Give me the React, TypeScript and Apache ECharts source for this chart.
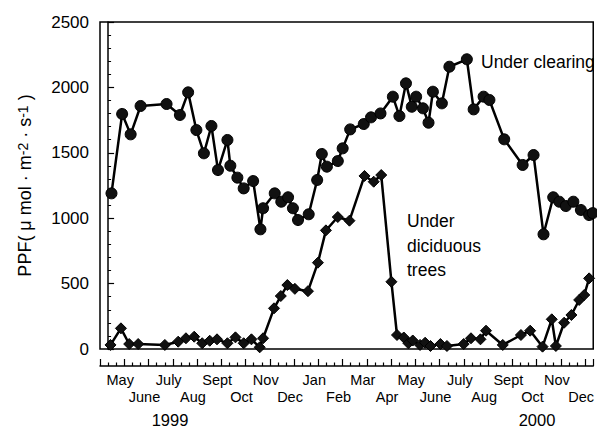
import React, { useEffect, useRef } from "react";
import * as echarts from "echarts";

// x positions in months after 1 May 1999 (0 = 1 May 1999)
const clearingX = [0.14, 0.58, 0.93, 1.34, 2.41, 2.96, 3.3, 3.64, 3.95, 4.26, 4.53, 4.92, 5.04, 5.33, 5.59, 5.98, 6.28, 6.39, 6.87, 7.14, 7.42, 7.62, 7.83, 8.27, 8.62, 8.81, 9.02, 9.47, 9.67, 9.98, 10.54, 10.84, 11.23, 11.74, 12.01, 12.28, 12.52, 12.7, 12.98, 13.21, 13.39, 13.76, 14.07, 14.79, 15.07, 15.48, 15.72, 16.33, 17.09, 17.54, 17.95, 18.35, 18.6, 18.87, 19.18, 19.49, 19.83, 19.98];
const clearingPPF = [1190, 1797, 1641, 1858, 1873, 1789, 1962, 1674, 1496, 1705, 1368, 1598, 1401, 1310, 1228, 1284, 915, 1076, 1190, 1126, 1160, 1076, 986, 1030, 1292, 1491, 1394, 1437, 1534, 1679, 1720, 1771, 1801, 1929, 1781, 2031, 1852, 1929, 1840, 1730, 1967, 1878, 2158, 2215, 1832, 1929, 1904, 1603, 1407, 1483, 877, 1160, 1126, 1093, 1126, 1063, 1024, 1039];

const treesX = [0.1, 0.53, 0.87, 1.24, 2.34, 2.89, 3.21, 3.55, 3.88, 4.19, 4.49, 4.92, 5.25, 5.59, 5.91, 6.25, 6.39, 6.84, 7.12, 7.39, 7.7, 8.24, 8.65, 8.98, 9.47, 9.95, 10.57, 10.95, 11.26, 11.68, 11.91, 12.19, 12.38, 12.56, 12.86, 13.07, 13.29, 13.7, 13.97, 14.66, 14.96, 15.35, 15.58, 16.27, 17.02, 17.4, 17.91, 18.29, 18.46, 18.8, 19.1, 19.42, 19.63, 19.83];
const treesPPF = [31, 158, 38, 38, 31, 56, 82, 94, 44, 63, 74, 44, 89, 44, 74, 13, 82, 311, 405, 489, 460, 442, 660, 907, 1009, 981, 1323, 1279, 1330, 514, 107, 88, 44, 65, 31, 48, 23, 38, 23, 38, 82, 74, 140, 31, 107, 140, 18, 227, 23, 201, 260, 375, 413, 540];

const monthLabels = ["May", "June", "July", "Aug", "Sept", "Oct", "Nov", "Dec", "Jan", "Feb", "Mar", "Apr", "May", "June", "July", "Aug", "Sept", "Oct", "Nov", "Dec"];
const upperRowCenters = monthLabels.map((_, i) => i + 0.5).filter((_, i) => i % 2 === 0);
const lowerRowCenters = monthLabels.map((_, i) => i + 0.5).filter((_, i) => i % 2 === 1);
const yearLabels = ["1999", "2000"];

const FONT = "Liberation Sans, Arial, Helvetica, sans-serif";

const monthName = (v: number) => monthLabels[Math.round(v - 0.5)] ?? "";

export default function App() {
  const ref = useRef<HTMLDivElement>(null);
  useEffect(() => {
    if (!ref.current) return;
    const chart = echarts.init(ref.current, undefined, { renderer: "svg" });
    const baseX = {
      type: "value",
      min: -1 / 3,
      max: 20,
      interval: 1,
      offset: 17,
      splitLine: { show: false },
      position: "bottom",
    };
    chart.setOption({
      animation: false,
      backgroundColor: "#fff",
      textStyle: { fontFamily: FONT, color: "#000" },
      grid: {
        left: 100,
        right: 1,
        top: 22,
        bottom: 79,
        show: true,
        borderColor: "#000",
        borderWidth: 1.5,
        backgroundColor: "transparent",
      },
      xAxis: [
        {
          ...baseX,
          axisLine: { show: true, onZero: false, lineStyle: { color: "#000", width: 1.5 } },
          axisTick: { show: true, inside: true, length: 7, lineStyle: { color: "#000", width: 1.2 } },
          minorTick: { show: true, splitNumber: 3, length: 3.5, lineStyle: { color: "#000", width: 1.2 } },
          axisLabel: {
            customValues: upperRowCenters,
            showMinLabel: true,
            showMaxLabel: true,
            hideOverlap: false,
            fontSize: 14.5,
            color: "#000",
            fontFamily: FONT,
            margin: 6,
            formatter: monthName,
          },
        },
        {
          ...baseX,
          axisLine: { show: false, onZero: false },
          axisTick: { show: false },
          minorTick: { show: false },
          axisLabel: {
            customValues: lowerRowCenters,
            showMinLabel: true,
            showMaxLabel: true,
            hideOverlap: false,
            fontSize: 14.5,
            color: "#000",
            fontFamily: FONT,
            margin: 23,
            formatter: monthName,
          },
        },
      ],
      yAxis: {
        type: "value",
        min: 0,
        max: 2500,
        interval: 500,
        name: "PPF( {g|μ} mol · m{sup|-2} · s{sup|-1} )",
        nameLocation: "middle",
        nameGap: 66,
        nameRotate: 90,
        nameTextStyle: {
          fontSize: 18,
          color: "#000",
          fontFamily: FONT,
          rich: {
            g: { fontSize: 18, fontFamily: FONT, color: "#000" },
            sup: { fontSize: 14, fontFamily: FONT, color: "#000", verticalAlign: "top", lineHeight: 14 },
          },
        },
        axisLine: { show: true, lineStyle: { color: "#000", width: 1.5 } },
        axisTick: { show: true, inside: true, length: 6, lineStyle: { color: "#000", width: 1.2 } },
        minorTick: { show: true, splitNumber: 5, length: 3, lineStyle: { color: "#000", width: 1 } },
        splitLine: { show: false },
        axisLabel: { fontSize: 17, color: "#000", fontFamily: FONT, margin: 11, formatter: (v: number) => String(v) },
      },
      series: [
        {
          name: "Under clearing",
          type: "line",
          xAxisIndex: 0,
          data: clearingX.map((x, i) => [x, clearingPPF[i]]),
          symbol: "circle",
          symbolSize: 11,
          lineStyle: { color: "#000", width: 2.5 },
          itemStyle: { color: "#111", borderColor: "#000", borderWidth: 1 },
          clip: true,
        },
        {
          name: "Under diciduous trees",
          type: "line",
          xAxisIndex: 0,
          data: treesX.map((x, i) => [x, treesPPF[i]]),
          symbol: "diamond",
          symbolSize: 11,
          lineStyle: { color: "#000", width: 2.5 },
          itemStyle: { color: "#111", borderColor: "#000", borderWidth: 1 },
          clip: true,
        },
      ],
      graphic: [
        { type: "text", left: 481, top: 53, style: { text: "Under clearing", fontSize: 17.5, fontFamily: FONT, fill: "#000" } },
        { type: "text", left: 407, top: 209, style: { text: "Under\ndiciduous\ntrees", fontSize: 17.5, lineHeight: 24.5, fontFamily: FONT, fill: "#000" } },
        { type: "text", x: 170, y: 420, style: { text: yearLabels[0], fontSize: 16.5, fontFamily: FONT, fill: "#000", align: "center", verticalAlign: "middle" } },
        { type: "text", x: 537, y: 420, style: { text: yearLabels[1], fontSize: 16.5, fontFamily: FONT, fill: "#000", align: "center", verticalAlign: "middle" } },
      ],
    });
    return () => chart.dispose();
  }, []);
  return <div ref={ref} style={{ position: "absolute", left: 0, top: 0, width: 597, height: 428 }} />;
}
